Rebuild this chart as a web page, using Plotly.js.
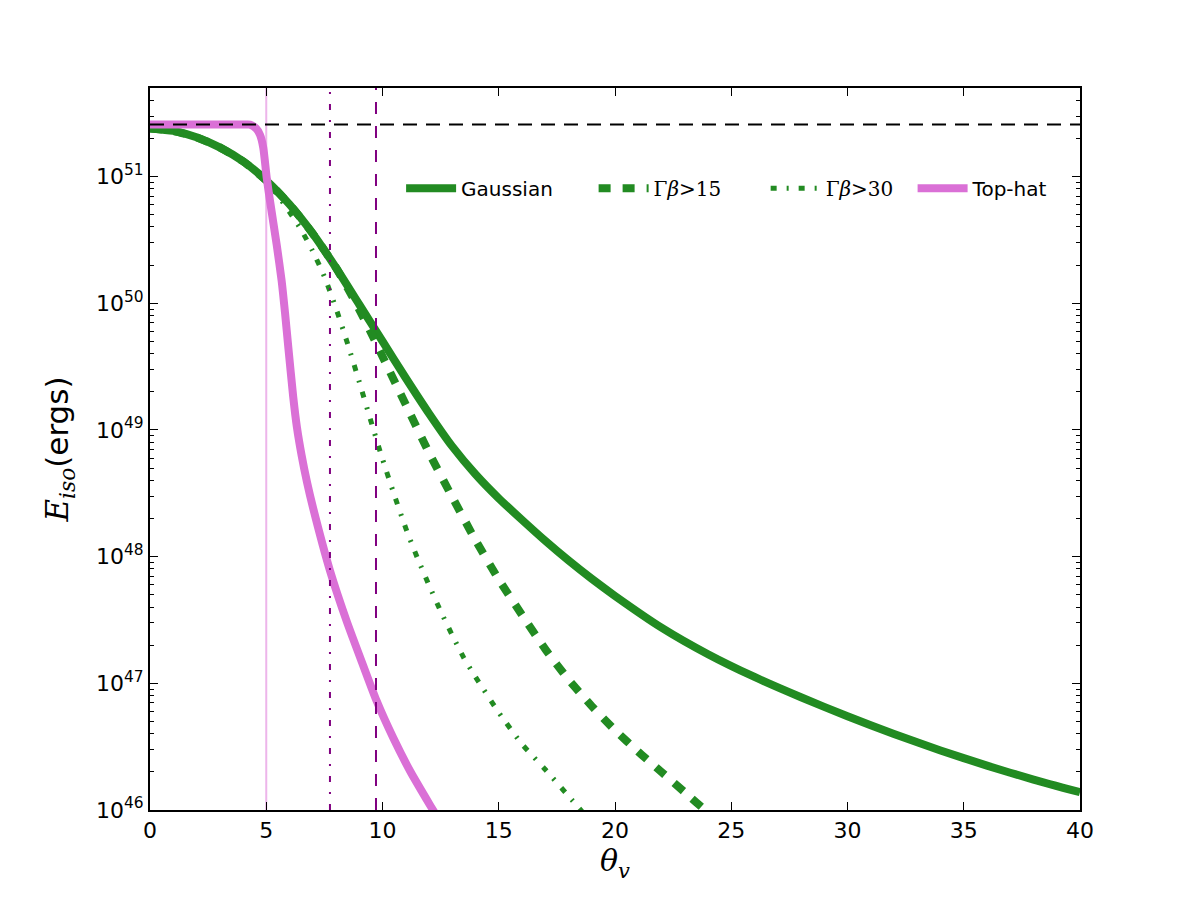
<!DOCTYPE html>
<html>
<head>
<meta charset="utf-8">
<script src="https://cdn.plot.ly/plotly-3.0.1.min.js"></script>
<style>html,body{margin:0;padding:0;background:#fff;}#chart{width:1200px;height:900px;}</style>
</head>
<body>
<div id="chart"></div>
<script>
// ---- data (log10 of E_iso in ergs) ----
const thetaGauss = [0, 1, 2, 3, 4, 5, 6, 7, 8, 9, 10, 11, 12, 13, 14, 15, 16, 17, 18, 19, 20, 22, 24, 26, 28, 30, 32, 34, 36, 38, 40];
const logEGauss  = [51.38, 51.36, 51.31, 51.23, 51.12, 50.97, 50.78, 50.55, 50.28, 49.99, 49.70, 49.41, 49.13, 48.87, 48.65, 48.46, 48.29, 48.125, 47.97, 47.825, 47.69, 47.44, 47.23, 47.05, 46.89, 46.74, 46.60, 46.47, 46.35, 46.24, 46.14];

const theta15 = [0, 1, 2, 3, 4, 5, 6, 7, 8, 8.5, 9, 9.5, 10, 11, 12, 13, 14, 15, 16, 17, 18, 19, 20, 21, 22, 23, 24, 25];
const logE15  = [51.38, 51.36, 51.31, 51.23, 51.12, 50.97, 50.78, 50.55, 50.28, 50.12, 49.95, 49.77, 49.58, 49.20, 48.82, 48.47, 48.13, 47.82, 47.54, 47.27, 47.03, 46.82, 46.63, 46.46, 46.30, 46.14, 45.98, 45.83];

const theta30 = [0, 1, 2, 3, 4, 5, 5.5, 6, 6.5, 7, 7.5, 8, 8.5, 9, 9.5, 10, 10.5, 11, 11.5, 12, 12.5, 13, 13.5, 14, 15, 16, 17, 18, 19];
const logE30  = [51.38, 51.36, 51.31, 51.23, 51.12, 50.96, 50.85, 50.72, 50.58, 50.41, 50.21, 49.96, 49.68, 49.38, 49.07, 48.77, 48.49, 48.225, 47.99, 47.775, 47.57, 47.38, 47.20, 47.05, 46.77, 46.52, 46.32, 46.11, 45.90];

const thetaTopHat = [0, 2, 4, 4.3, 4.56, 4.73, 4.87, 5.02, 5.16, 5.45, 5.66, 5.81, 5.95, 6.16, 6.32, 6.52, 6.75, 7.02, 7.74, 8.46, 9.17, 9.75, 10.46, 11.18, 12.04, 12.5];
const logETopHat  = [51.41, 51.41, 51.41, 51.41, 51.38, 51.33, 51.23, 50.99, 50.81, 50.46, 50.18, 49.92, 49.65, 49.26, 49.02, 48.80, 48.59, 48.38, 47.89, 47.49, 47.14, 46.86, 46.57, 46.31, 46.04, 45.90];

const logE0 = 51.41;          // horizontal dashed reference level
const thetaCoreTopHat = 5.0;  // light vertical line
const thetaDashDot = 7.74;    // purple dash-dot vertical
const thetaDashed = 9.72;     // purple dashed vertical

const seriesNames = ['Gaussian', 'Γ<i>β</i>&gt;15', 'Γ<i>β</i>&gt;30', 'Top-hat'];
const yTickExponents = [46, 47, 48, 49, 50, 51];
const xTickVals = [0, 5, 10, 15, 20, 25, 30, 35, 40];

// ---- helpers ----
const toE = a => a.map(v => Math.pow(10, v));
const yLo = 1e46, yHi = 5e51;

const green = '#228B22', orchid = '#DA70D6', purple = '#800080';

const traces = [
  {x: [thetaCoreTopHat, thetaCoreTopHat], y: [yLo, yHi], mode: 'lines', showlegend: false,
   line: {color: '#EDB5EA', width: 2}, hoverinfo: 'skip'},
  {x: thetaGauss, y: toE(logEGauss), mode: 'lines', name: seriesNames[0], legend: 'legend',
   line: {color: green, width: 8, shape: 'spline', smoothing: 0.6}},
  {x: theta15, y: toE(logE15), mode: 'lines', name: seriesNames[1], legend: 'legend2',
   line: {color: green, width: 8, dash: '12px,12px', shape: 'spline', smoothing: 0.6}},
  {x: theta30, y: toE(logE30), mode: 'lines', name: seriesNames[2], legend: 'legend3',
   line: {color: green, width: 5, dash: '6px,10px,2px,10px', shape: 'spline', smoothing: 0.6}},
  {x: thetaTopHat, y: toE(logETopHat), mode: 'lines', name: seriesNames[3], legend: 'legend4',
   line: {color: orchid, width: 8, shape: 'spline', smoothing: 0.6}},
  {x: [0, 40], y: [Math.pow(10, logE0), Math.pow(10, logE0)], mode: 'lines', showlegend: false,
   line: {color: 'black', width: 2, dash: '14px,9px'}, hoverinfo: 'skip'},
  {x: [thetaDashDot, thetaDashDot], y: [yLo, yHi], mode: 'lines', showlegend: false,
   line: {color: purple, width: 2, dash: '6px,10px,2px,10px'}, hoverinfo: 'skip'},
  {x: [thetaDashed, thetaDashed], y: [yLo, yHi], mode: 'lines', showlegend: false,
   line: {color: purple, width: 2, dash: '12px,12px'}, hoverinfo: 'skip'}
];

const minorVals = [];
for (let e = 46; e <= 51; e++) for (let m = 2; m <= 9; m++) minorVals.push(m * Math.pow(10, e));

const legendBase = {yanchor: 'middle', y: 0.861, xanchor: 'left', bgcolor: 'rgba(0,0,0,0)',
  borderwidth: 0, orientation: 'h', itemwidth: 50};
const sansFont = {family: 'DejaVu Sans', size: 20, color: 'black'};
const serifFont = {family: 'DejaVu Serif', size: 20, color: 'black'};

const layout = {
  width: 1200, height: 900,
  paper_bgcolor: 'white', plot_bgcolor: 'white',
  margin: {l: 150, r: 120, t: 88, b: 90},
  showlegend: true,
  font: {family: 'DejaVu Sans', color: 'black'},
  xaxis: {
    range: [0, 40], tickvals: xTickVals, ticktext: xTickVals.map(String),
    ticks: 'inside', ticklen: 8, tickwidth: 1, tickcolor: 'black',
    showline: true, linewidth: 2, linecolor: 'black', mirror: 'ticks',
    showgrid: false, zeroline: false,
    tickfont: {family: 'DejaVu Sans', size: 22, color: 'black'},
    title: {text: '<i>θ</i><sub><i>v</i></sub>', font: {family: 'DejaVu Serif', size: 30, color: 'black'}, standoff: 6}
  },
  yaxis: {
    type: 'log', range: [46, Math.log10(yHi)],
    tickvals: yTickExponents.map(e => Math.pow(10, e)),
    ticktext: yTickExponents.map(e => '10<sup>' + e + '</sup>'),
    ticks: 'inside', ticklen: 8, tickwidth: 1, tickcolor: 'black',
    minor: {tickvals: minorVals, ticks: 'inside', ticklen: 4, tickwidth: 1, tickcolor: 'black', showgrid: false},
    showline: true, linewidth: 2, linecolor: 'black', mirror: 'ticks',
    showgrid: false, zeroline: false,
    tickfont: {family: 'DejaVu Sans', size: 22, color: 'black'},
    title: {text: '<span style="font-family:DejaVu Serif"><i>E</i><sub><i>iso</i></sub></span>(ergs)',
            font: {family: 'DejaVu Sans', size: 31, color: 'black'}, standoff: 18}
  },
  legend:  Object.assign({}, legendBase, {x: 0.270, font: sansFont}),
  legend2: Object.assign({}, legendBase, {x: 0.477, font: serifFont}),
  legend3: Object.assign({}, legendBase, {x: 0.662, font: serifFont}),
  legend4: Object.assign({}, legendBase, {x: 0.820, font: sansFont})
};

Plotly.newPlot('chart', traces, layout, {displayModeBar: false, staticPlot: true});
</script>
</body>
</html>
